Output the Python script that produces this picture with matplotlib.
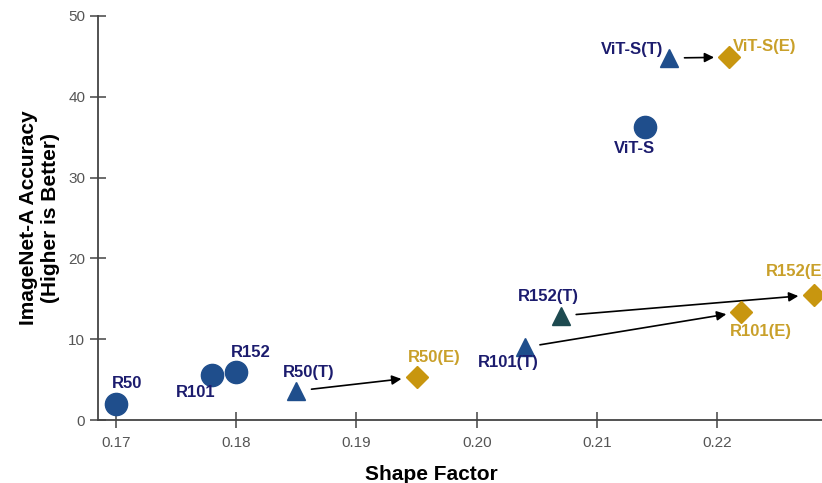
import matplotlib
matplotlib.use('Agg')
import matplotlib.pyplot as plt

plt.rcParams['font.family'] = ['Liberation Sans', 'DejaVu Sans']

# baseline models (circles)
base_names = ['R50', 'R101', 'R152', 'ViT-S']
base_x = [0.170, 0.178, 0.180, 0.214]
base_y = [2.0, 5.6, 5.9, 36.2]

# teacher-trained models (triangles)
t_names = ['R50(T)', 'R101(T)', 'R152(T)', 'ViT-S(T)']
t_x = [0.185, 0.204, 0.207, 0.216]
t_y = [3.6, 9.0, 12.9, 44.8]

# ensemble models (diamonds)
e_names = ['R50(E)', 'R101(E)', 'R152(E)', 'ViT-S(E)']
e_x = [0.195, 0.222, 0.228, 0.221]
e_y = [5.3, 13.4, 15.5, 44.9]

navy = '#1c1c6e'
blue = '#1f4e8c'
teal = '#1d4a50'
gold = '#c8960f'
gold_txt = '#c9a02a'

# label offsets in pixels (dx, dy, ha)
base_off = [(11, 20, 'center'), (-16, -18, 'center'), (15, 20, 'center'), (-11, -21, 'center')]
t_off = [(12, 18, 'center'), (-17, -15, 'center'), (-13, 19, 'center'), (-6, 9, 'right')]
e_off = [(18, 20, 'center'), (19, -20, 'center'), (-17, 23, 'center'), (4, 11, 'left')]

fig = plt.figure(figsize=(8.22, 4.83), dpi=100)
ax = fig.add_axes([0.119, 0.1304, 0.881, 0.8365])

# arrows from triangle to diamond
for i in range(len(t_x)):
    ax.annotate('', xy=(e_x[i], e_y[i]), xytext=(t_x[i], t_y[i]),
                arrowprops=dict(arrowstyle='-|>', color='black', lw=1.2,
                                mutation_scale=14, shrinkA=11, shrinkB=11))

ax.plot(base_x, base_y, 'o', ms=16, color=blue, ls='none', clip_on=False, zorder=3)
t_cols = [blue, blue, teal, blue]
for i in range(len(t_x)):
    ax.plot(t_x[i], t_y[i], '^', ms=13, color=t_cols[i], ls='none', clip_on=False, zorder=3)
ax.plot(e_x, e_y, 'D', ms=11, color=gold, ls='none', clip_on=False, zorder=3)

for names, xs, ys, offs, col in [(base_names, base_x, base_y, base_off, navy),
                                 (t_names, t_x, t_y, t_off, navy),
                                 (e_names, e_x, e_y, e_off, gold_txt)]:
    for n, x, y, (dx, dy, ha) in zip(names, xs, ys, offs):
        ax.annotate(n, (x, y), xytext=(dx, dy), textcoords='offset pixels',
                    ha=ha, va='center', fontsize=12, fontweight='bold', color=col,
                    annotation_clip=False)

ax.set_xlim(0.1685, 0.2287)
ax.set_ylim(0, 50)
ax.set_xticks([0.17, 0.18, 0.19, 0.20, 0.21, 0.22])
ax.set_xticklabels(['0.17', '0.18', '0.19', '0.20', '0.21', '0.22'])
ax.set_yticks([0, 10, 20, 30, 40, 50])

for s in ['top', 'right']:
    ax.spines[s].set_visible(False)
for s in ['left', 'bottom']:
    ax.spines[s].set_color('#444444')
    ax.spines[s].set_linewidth(1.3)
ax.tick_params(direction='inout', length=11, width=1.1, color='#444444',
               labelsize=11, labelcolor='#555555')
ax.tick_params(axis='x', pad=6)

ax.set_xlabel('Shape Factor', fontsize=15, fontweight='bold')
ax.xaxis.set_label_coords(0.46, -0.112)
ax.set_ylabel('ImageNet-A Accuracy\n(Higher is Better)', fontsize=15,
              fontweight='bold', labelpad=6)

fig.savefig('out.png', dpi=100)
